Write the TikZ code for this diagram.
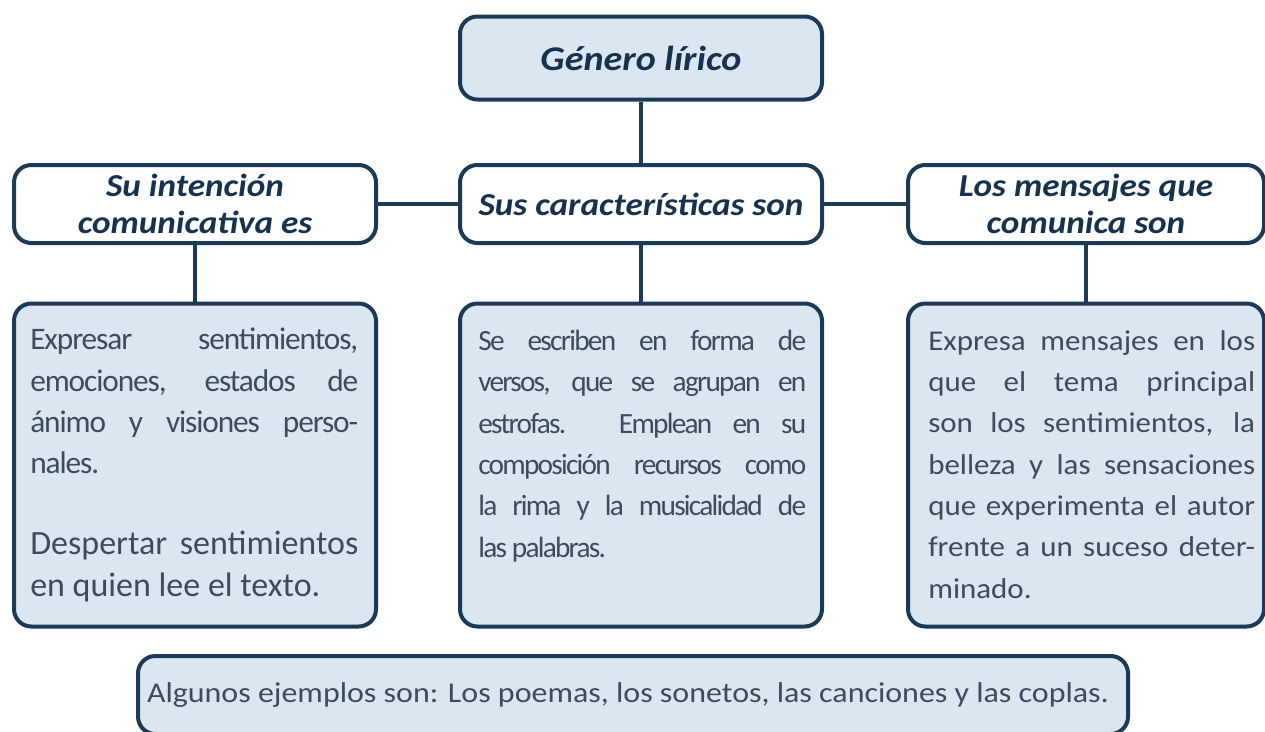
\documentclass[tikz,border=0pt]{standalone}
\usepackage{fontspec}
\setmainfont{Carlito}
\definecolor{navy}{HTML}{1C3A57}
\definecolor{titletext}{HTML}{17324F}
\definecolor{boxfill}{HTML}{DCE6F1}
\definecolor{bodytext}{HTML}{3D4C5C}
\tikzset{
  box/.style={draw=navy, line width=3pt, rounded corners=13pt, inner sep=0pt},
  filled/.style={box, fill=boxfill},
  plain/.style={box, fill=white},
  head/.style={font=\fontsize{24}{27.75}\selectfont\bfseries\itshape, text=titletext, align=center, inner sep=0pt, xscale=1.1, transform shape},
  bodytxt/.style={font=\fontsize{21.5}{31}\selectfont, text=bodytext, align=justify, inner sep=0pt, anchor=north west, transform shape},
  link/.style={draw=navy, line width=3pt}
}
\begin{document}
\begin{tikzpicture}[x=0.75pt,y=-0.75pt]
\clip (0,0) rectangle (1265,732);
\fill[white] (0,0) rectangle (1265,732);
% boxes
\node[filled, minimum width=271.5pt, minimum height=62.25pt] (top) at (641,58) {};
\node[plain, minimum width=271.5pt, minimum height=58.5pt] (lh) at (195,204) {};
\node[plain, minimum width=271.5pt, minimum height=58.5pt] (mh) at (641,204) {};
\node[plain, minimum width=267pt, minimum height=58.5pt] (rh) at (1086,204) {};
\node[filled, minimum width=271.5pt, minimum height=242.25pt] (lb) at (195,465) {};
\node[filled, minimum width=271.5pt, minimum height=242.25pt] (mb) at (641,465) {};
\node[filled, minimum width=267pt, minimum height=242.25pt] (rb) at (1086,465) {};
\node[filled, minimum width=742.5pt, minimum height=58.5pt] (bot) at (633,695) {};
% connectors
\draw[link] (top.south) -- (mh.north);
\draw[link] (lh.east) -- (mh.west);
\draw[link] (mh.east) -- (rh.west);
\draw[link] (lh.south) -- (lb.north);
\draw[link] (mh.south) -- (mb.north);
\draw[link] (rh.south) -- (rb.north);
% header texts
\node[head, font=\fontsize{26}{30}\selectfont\bfseries\itshape] (ttop) at (top.center) {Género lírico};
\node[head] (tlh) at (lh.center) {Su intención\\comunicativa es};
\node[head] (tmh) at (mh.center) {Sus características son};
\node[head] (trh) at (rh.center) {Los mensajes que\\comunica son};
% body texts
\node[bodytxt, font={\fontsize{23.5}{31}\selectfont\addfontfeature{LetterSpace=-3.5}}, text width=246pt] (tlb) at (30,328) {Expresar sentimientos,\linebreak emociones, estados de\linebreak ánimo y visiones perso-\linebreak nales.};
\node[bodytxt, font=\fontsize{25.5}{31}\selectfont, text width=246pt] (tlb2) at (30,531) {Despertar sentimientos\linebreak en quien lee el texto.};
\node[bodytxt, font={\fontsize{22}{31}\selectfont\addfontfeature{LetterSpace=-6}}, text width=246pt] (tmb) at (478,330) {Se escriben en forma de\linebreak versos, que se agrupan en\linebreak estrofas. Emplean en su\linebreak composición recursos como\linebreak la rima y la musicalidad de\linebreak las palabras.};
\node[bodytxt, xscale=1.08, text width=227pt] (trb) at (928,330) {Expresa mensajes en los\linebreak que el tema principal\linebreak son los sentimientos, la\linebreak belleza y las sensaciones\linebreak que experimenta el autor\linebreak frente a un suceso deter-\linebreak minado.};
\node[font=\fontsize{21.5}{26}\selectfont, text=bodytext, inner sep=0pt, xscale=1.115, transform shape] (tbot) at (628,695) {Algunos ejemplos son: Los poemas, los sonetos, las canciones y las coplas.};
\end{tikzpicture}
\end{document}
